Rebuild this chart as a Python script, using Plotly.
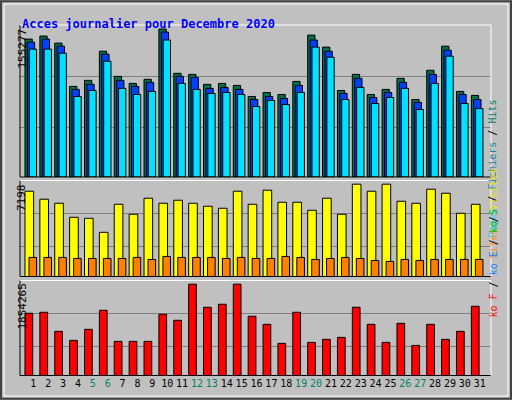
import plotly.graph_objects as go

days = list(range(1, 32))
weekend = [5, 6, 12, 13, 19, 20, 26, 27]
hits = [144700,147900,140500,95100,101400,132000,105600,98200,102500,155277,108800,107700,97200,98200,96100,84500,88700,86600,100300,148900,136300,90800,107700,86600,91900,103500,81300,112000,137300,89800,85600]
fichiers = [141500,144700,137300,91900,97200,128900,101400,95100,99300,152100,105600,104600,93000,94000,91900,81300,84500,82400,96100,143700,132000,87700,103500,83400,88700,99300,78200,107700,133100,86600,81300]
pages = [134200,134200,129900,84500,90800,121500,93000,86600,89800,143700,98200,91900,87700,88700,86600,73900,80300,76100,88700,136300,125700,81300,94000,77100,83400,93000,70800,98200,126800,77100,71800]
visites = [6650,6025,5712,4616,4538,3443,5633,4851,6103,5712,5946,5712,5477,5320,6650,5633,6729,5790,5790,5164,6103,4851,7198,6650,7198,5868,5712,6807,6494,4929,5633]
sites = [1487,1487,1487,1408,1408,1408,1408,1487,1330,1565,1487,1487,1487,1408,1487,1408,1408,1565,1487,1330,1408,1487,1408,1252,1174,1330,1252,1330,1330,1330,1330]
kof = [1263312,1283688,896544,713160,937296,1324440,692784,692784,692784,1242936,1120680,1854265,1385568,1446696,1854265,1202184,1039176,652032,1283688,672408,733536,774288,1385568,1039176,672408,1059552,611280,1039176,733536,896544,1405944]

fig = go.Figure()
def bar(y, color, off, w, xa, ya):
    fig.add_trace(go.Bar(x=days, y=y, offset=off, width=w, marker=dict(color=color, line=dict(color="black", width=1)),
                         xaxis=xa, yaxis=ya, showlegend=False, hoverinfo="skip"))
bar(hits, "#007050", -0.56, 0.49, "x", "y")
bar(fichiers, "#0040ff", -0.40, 0.49, "x", "y")
bar(pages, "#00e0ff", -0.27, 0.49, "x", "y")
bar(visites, "#ffff00", -0.56, 0.58, "x2", "y2")
bar(sites, "#ff8000", -0.29, 0.51, "x2", "y2")
bar(kof, "#ff0000", -0.56, 0.52, "x3", "y3")

font = "DejaVu Sans Mono"
xr = [0.105, 31.76]
xd = [20/512, 491/512]
ticktext = [f"<span style='color:{'#008060' if d in weekend else 'black'}'>{d}</span>" for d in days]
common = dict(range=xr, domain=xd, showgrid=False, zeroline=False, fixedrange=True)
fig.update_layout(
    width=512, height=400, margin=dict(l=0, r=0, t=0, b=0),
    paper_bgcolor="#c0c0c0", plot_bgcolor="#c0c0c0", barmode="overlay",
    font=dict(family=font, size=11, color="black"),
    xaxis=dict(**common, showticklabels=False),
    xaxis2=dict(**common, showticklabels=False, anchor="y2"),
    xaxis3=dict(**common, anchor="y3", tickvals=days, ticktext=ticktext, tickfont=dict(size=10), ticks="", tickangle=0),
    yaxis=dict(domain=[1-177/400, 1-25/400], range=[0, 159500], tickvals=[51800, 105600], showticklabels=False, gridcolor="#808080", zeroline=False),
    yaxis2=dict(domain=[1-276.5/400, 1-180.5/400], range=[0, 7485], tickvals=[2347, 4929], showticklabels=False, gridcolor="#808080", zeroline=False, anchor="x2"),
    yaxis3=dict(domain=[1-375.5/400, 1-280.5/400], range=[0, 1929000], tickvals=[590900, 1263000], showticklabels=False, gridcolor="#808080", zeroline=False, anchor="x3"),
)
shapes = []
for y0, y1 in [(25, 177), (180.5, 276.5), (280.5, 375.5)]:
    shapes.append(dict(type="line", xref="paper", yref="paper", x0=20/512, x1=20/512, y0=1-y1/400, y1=1-y0/400, line=dict(color="black", width=1)))
    shapes.append(dict(type="line", xref="paper", yref="paper", x0=20/512, x1=491/512, y0=1-y1/400, y1=1-y1/400, line=dict(color="black", width=1)))
    shapes.append(dict(type="line", xref="paper", yref="paper", x0=20/512, x1=491/512, y0=1-y0/400, y1=1-y0/400, line=dict(color="white", width=1)))
    shapes.append(dict(type="line", xref="paper", yref="paper", x0=491/512, x1=491/512, y0=1-y1/400, y1=1-y0/400, line=dict(color="white", width=1)))
shapes.append(dict(type="rect", xref="paper", yref="paper", x0=0.002, x1=0.998, y0=0.003, y1=0.997, line=dict(color="#404040", width=2)))
shapes.append(dict(type="rect", xref="paper", yref="paper", x0=0.008, x1=0.992, y0=0.01, y1=0.99, line=dict(color="white", width=1)))
fig.update_layout(shapes=shapes)

ann = [
    dict(x=20/512, y=1-15/400, text="<b>Acces journalier pour Decembre 2020</b>", font=dict(color="#0000ff", size=12), xanchor="left"),
    dict(x=13/512, y=1-27/400, text="155277", textangle=-90, yanchor="top"),
    dict(x=13/512, y=1-182/400, text="7198", textangle=-90, yanchor="top"),
    dict(x=13/512, y=1-282/400, text="1854265", textangle=-90, yanchor="top"),
    dict(x=500/512, y=1-97/400, textangle=-90, font=dict(size=10), text="<span style='color:#40c8e0'>Pages</span> / <span style='color:#2080a0'>Fichiers</span> / <span style='color:#008060'>Hits</span>"),
    dict(x=500/512, y=1-214/400, textangle=-90, font=dict(size=10), text="<span style='color:#ff9030'>Sites</span> / <span style='color:#f0e000'>Visites</span>"),
    dict(x=500/512, y=1-320/400, textangle=-90, font=dict(size=10), text="<span style='color:#ff0000'>ko F</span> / <span style='color:#2080ff'>ko E</span> / <span style='color:#00c000'>ko S</span>"),
]
for a in ann:
    a.setdefault("xref", "paper"); a.setdefault("yref", "paper"); a["showarrow"] = False
fig.update_layout(annotations=ann)
fig.write_html("out.html", config={"displayModeBar": False},
               post_script="document.body.style.margin='0';document.body.style.overflow='hidden';")
